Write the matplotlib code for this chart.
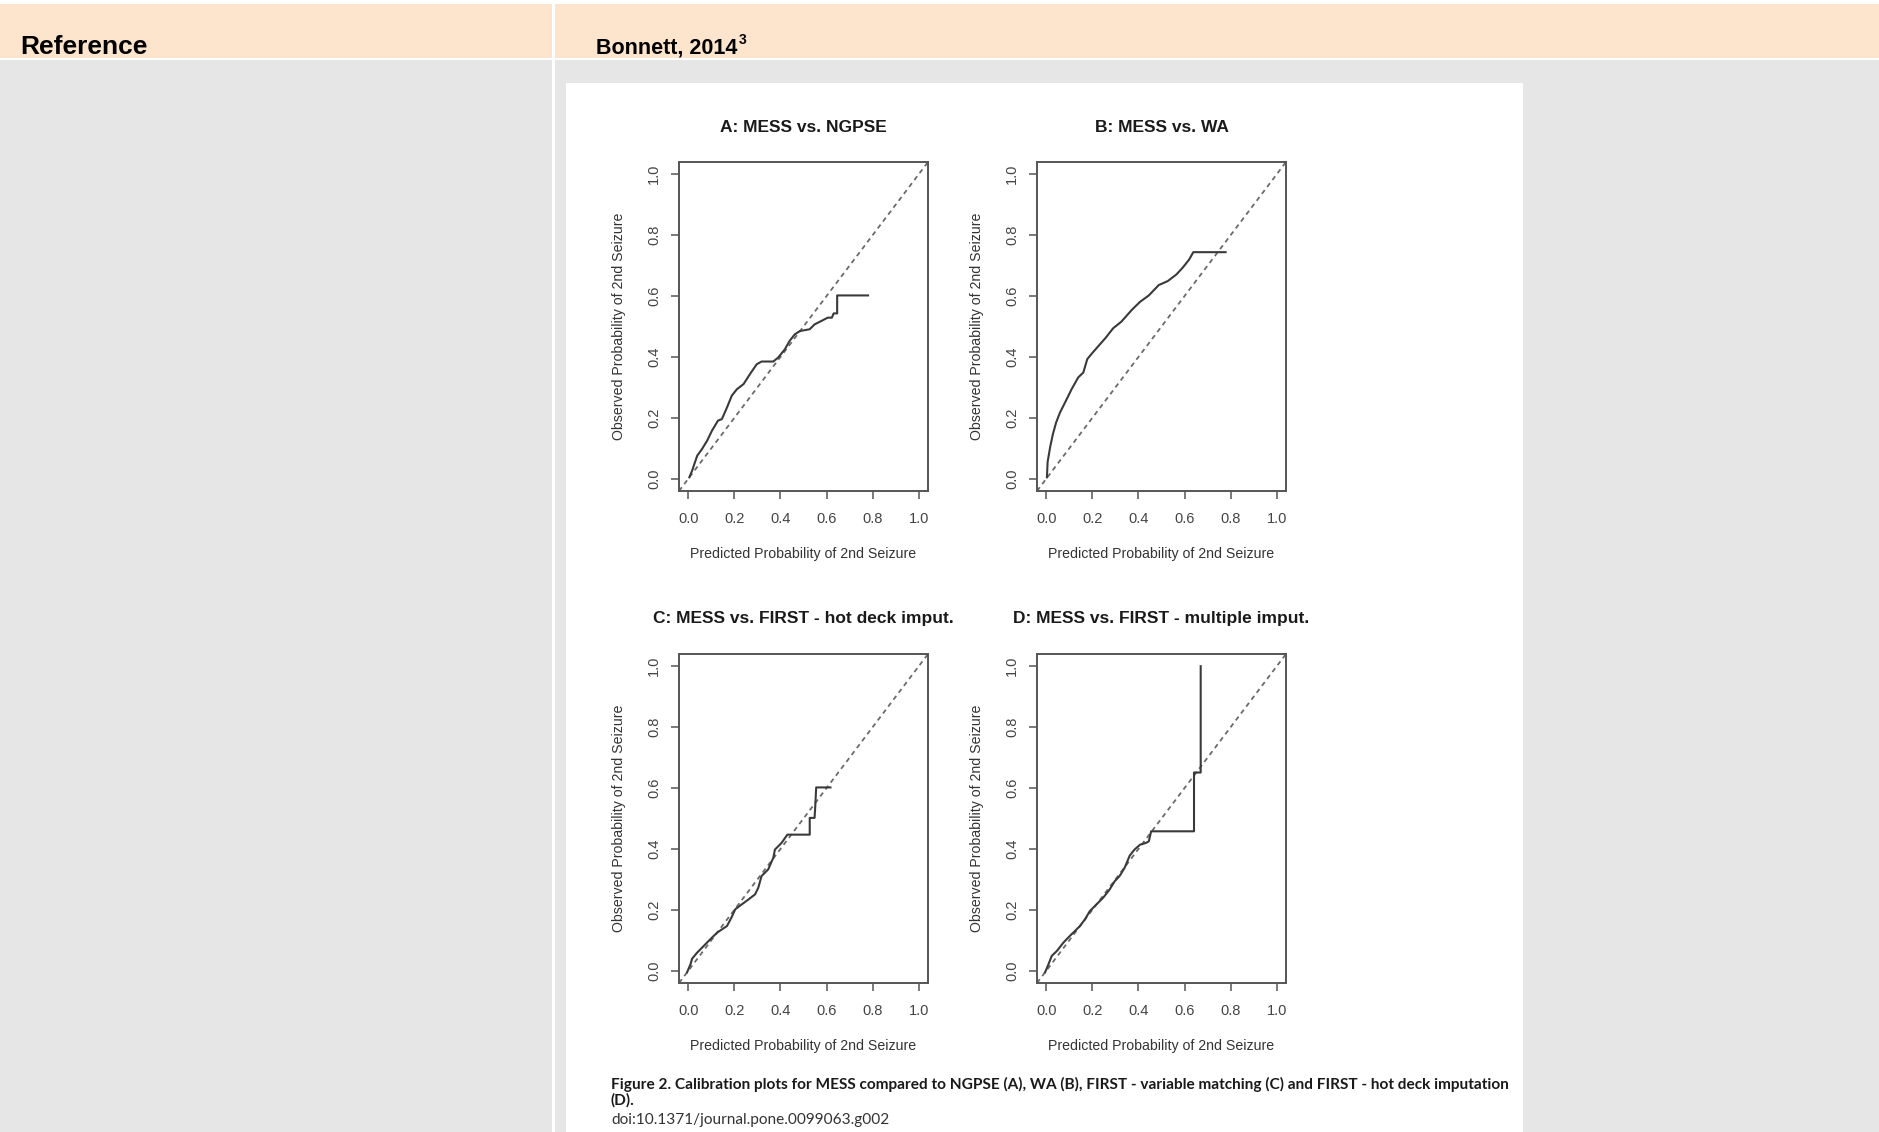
import numpy as np
import matplotlib
matplotlib.use('Agg')
from matplotlib import pyplot as plt
from matplotlib.patches import Rectangle

plt.rcParams['font.family'] = ['Liberation Sans', 'DejaVu Sans']

W, H = 1879, 1132

header_left = 'Reference'
header_right = 'Bonnett, 2014'
header_sup = '3'

titles = ['A: MESS vs. NGPSE', 'B: MESS vs. WA',
          'C: MESS vs. FIRST - hot deck imput.', 'D: MESS vs. FIRST - multiple imput.']
x_label = 'Predicted Probability of 2nd Seizure'
y_label = 'Observed Probability of 2nd Seizure'
ticks = [0.0, 0.2, 0.4, 0.6, 0.8, 1.0]
tick_labels = ['0.0', '0.2', '0.4', '0.6', '0.8', '1.0']

caption1 = ('Figure 2. Calibration plots for MESS compared to NGPSE (A), WA (B), '
            'FIRST - variable matching (C) and FIRST - hot deck imputation')
caption2 = '(D).'
doi = 'doi:10.1371/journal.pone.0099063.g002'

# calibration curves (predicted, observed)
a_pred = [0.005, 0.017, 0.039, 0.060, 0.082, 0.103, 0.129, 0.146, 0.168, 0.189, 0.211,
          0.240, 0.268, 0.297, 0.318, 0.369, 0.390, 0.419, 0.440, 0.462, 0.484, 0.527,
          0.548, 0.577, 0.605, 0.623, 0.631, 0.646, 0.646, 0.780]
a_obs = [0.005, 0.027, 0.076, 0.098, 0.125, 0.158, 0.191, 0.196, 0.234, 0.273, 0.294,
         0.311, 0.344, 0.376, 0.385, 0.385, 0.398, 0.425, 0.453, 0.474, 0.485, 0.491,
         0.507, 0.518, 0.529, 0.529, 0.543, 0.543, 0.602, 0.602]

b_pred = [0.003, 0.006, 0.017, 0.029, 0.043, 0.060, 0.082, 0.110, 0.139, 0.161, 0.178,
          0.201, 0.230, 0.258, 0.290, 0.326, 0.373, 0.407, 0.445, 0.488, 0.527, 0.565,
          0.594, 0.620, 0.638, 0.778]
b_obs = [0.005, 0.055, 0.104, 0.147, 0.185, 0.218, 0.251, 0.294, 0.333, 0.349, 0.393,
         0.414, 0.439, 0.463, 0.494, 0.516, 0.556, 0.581, 0.602, 0.636, 0.649, 0.671,
         0.695, 0.720, 0.744, 0.744]

c_pred = [-0.005, 0.010, 0.017, 0.039, 0.060, 0.082, 0.103, 0.125, 0.146, 0.168, 0.187,
          0.204, 0.232, 0.261, 0.290, 0.304, 0.318, 0.347, 0.369, 0.376, 0.405, 0.430,
          0.527, 0.527, 0.548, 0.551, 0.555, 0.617]
c_obs = [-0.005, 0.022, 0.040, 0.060, 0.076, 0.093, 0.109, 0.125, 0.136, 0.147, 0.174,
         0.202, 0.218, 0.234, 0.251, 0.273, 0.311, 0.333, 0.371, 0.398, 0.420, 0.447,
         0.447, 0.502, 0.502, 0.540, 0.602, 0.602]

d_pred = [-0.005, 0.010, 0.024, 0.046, 0.075, 0.103, 0.125, 0.146, 0.168, 0.189, 0.218,
          0.247, 0.275, 0.297, 0.318, 0.340, 0.362, 0.383, 0.407, 0.433, 0.445, 0.455,
          0.641, 0.641, 0.670, 0.670]
d_obs = [-0.005, 0.022, 0.049, 0.065, 0.093, 0.115, 0.131, 0.147, 0.169, 0.196, 0.218,
         0.240, 0.267, 0.294, 0.311, 0.338, 0.378, 0.398, 0.414, 0.420, 0.425, 0.458,
         0.458, 0.651, 0.651, 1.000]

curves = [(a_pred, a_obs), (b_pred, b_obs), (c_pred, c_obs), (d_pred, d_obs)]

fig = plt.figure(figsize=(W / 100, H / 100), dpi=100)
fig.patch.set_facecolor('white')

# background layer in pixel coordinates
bg = fig.add_axes([0, 0, 1, 1])
bg.set_xlim(0, W)
bg.set_ylim(H, 0)
bg.axis('off')
bg.add_patch(Rectangle((0, 4), W, 53.5, facecolor='#fde4cc', edgecolor='none'))
bg.add_patch(Rectangle((0, 60), W, H - 60, facecolor='#e6e6e6', edgecolor='none'))
bg.add_patch(Rectangle((552, 0), 3, H, facecolor='white', edgecolor='none'))
bg.add_patch(Rectangle((566, 83), 1523 - 566, H - 83, facecolor='white', edgecolor='none'))

r = fig.canvas.get_renderer()
bg.text(20, 53.5, header_left, fontsize=19, fontweight='bold', color='black', va='baseline')
t = bg.text(596, 53.5, header_right, fontsize=15.5, fontweight='bold', color='black',
            va='baseline')
ext = t.get_window_extent(r)
bg.text(596 + ext.width + 1, 44, header_sup, fontsize=10, fontweight='bold',
        color='black', va='baseline')

lefts = [679, 1037]
tops = [162, 654]
bw, bh = 249, 329

for i, (title, (xp, yo)) in enumerate(zip(titles, curves)):
    left = lefts[i % 2]
    top = tops[i // 2]
    ax = fig.add_axes([left / W, 1 - (top + bh) / H, bw / W, bh / H])
    ax.set_xlim(-0.04, 1.04)
    ax.set_ylim(-0.04, 1.04)
    ax.axline((0, 0), (1, 1), color='#6a6a6a', lw=1.3, dashes=(2.6, 2.2))
    ax.plot(xp, yo, color='#3a3a3a', lw=1.5)
    ax.set_xticks(ticks)
    ax.set_xticklabels(tick_labels)
    ax.set_yticks(ticks)
    ax.set_yticklabels(tick_labels)
    ax.tick_params(direction='out', length=6, width=1.1, color='#555555',
                   labelsize=10.5, labelcolor='#444444', pad=9)
    ax.tick_params(axis='y', labelrotation=90, pad=7)
    for lab in ax.get_yticklabels():
        lab.set_va('center')
    for s in ax.spines.values():
        s.set_color('#555555')
        s.set_linewidth(1.4)

    cx = left + bw / 2
    bg.text(cx, top - 35, title, fontsize=12.5, fontweight='bold', color='#1a1a1a',
            ha='center', va='center')
    bg.text(cx, top + bh + 63, x_label, fontsize=10.2, color='#333333',
            ha='center', va='center')
    bg.text(left - 60, top + bh / 2, y_label, fontsize=10.2, color='#333333',
            ha='center', va='center', rotation=90)

cap = bg.text(611, 1089, caption1, fontsize=10, fontweight='bold', family='Lato',
              color='#1a1a1a', va='baseline')
cw = cap.get_window_extent(r).width
cap_size = 10 * 895 / cw
cap.set_fontsize(cap_size)
bg.text(611, 1105, caption2, fontsize=cap_size, fontweight='bold', family='Lato',
        color='#1a1a1a', va='baseline')
bg.text(611, 1124, doi, fontsize=cap_size, family='Lato', color='#333333',
        va='baseline')

fig.savefig('out.png', dpi=100)
